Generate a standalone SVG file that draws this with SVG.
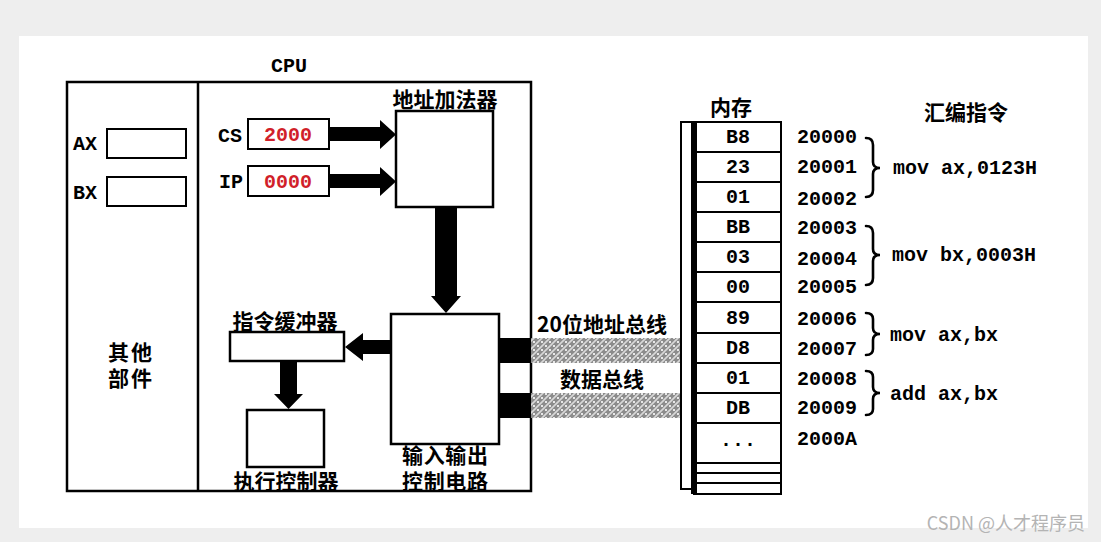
<svg xmlns="http://www.w3.org/2000/svg" width="1101" height="542" viewBox="0 0 1101 542">
<defs>
<pattern id="hatch" width="8" height="8" patternUnits="userSpaceOnUse">
<rect width="8" height="8" fill="#8c8c8c"/>
<path d="M0,8 L8,0 M-2,2 L2,-2 M6,10 L10,6" stroke="#d8d8d8" stroke-width="1.6"/>
<circle cx="2" cy="2" r="1.1" fill="#ffffff"/>
<circle cx="6" cy="6" r="1.1" fill="#ffffff"/>
</pattern>
<style>
.box{fill:#fff;stroke:#000;stroke-width:2.5}
.thin{fill:#fff;stroke:#000;stroke-width:2}
.zh{font-family:"Noto Sans CJK SC","Noto Sans CJK JP",sans-serif;font-weight:bold;font-size:21px;fill:#000}
.mono{font-family:"Liberation Mono","DejaVu Sans Mono",monospace;font-weight:bold;font-size:20px;fill:#000}
.red{fill:#d11f2a}
.arr{fill:#000}
.brace{fill:none;stroke:#000;stroke-width:2.6;stroke-linecap:round}
</style>
</defs>
<rect width="1101" height="542" fill="#eeeeee"/>
<rect x="19" y="36" width="1069" height="492" fill="#ffffff"/>

<g id="cpu">
<rect class="box" x="67" y="82" width="464" height="409" fill="none"/>
<line x1="198" y1="82" x2="198" y2="491" stroke="#000" stroke-width="2.5"/>
<text class="mono" x="289" y="66" text-anchor="middle" dominant-baseline="central">CPU</text>
</g>

<g id="other-parts">
<text class="zh" x="108" y="351" dominant-baseline="central" font-size="16" textLength="44" lengthAdjust="spacing">其他</text>
<text class="zh" x="108" y="377" dominant-baseline="central" font-size="16" textLength="44" lengthAdjust="spacing">部件</text>
</g>

<g id="ax">
<text class="mono" x="73" y="144" dominant-baseline="central" font-size="19">AX</text>
<rect class="thin" x="107" y="129" width="79" height="29"/>
</g>
<g id="bx">
<text class="mono" x="73" y="193" dominant-baseline="central" font-size="19">BX</text>
<rect class="thin" x="107" y="177" width="79" height="29"/>
</g>

<g id="cs">
<text class="mono" x="218" y="136" dominant-baseline="central">CS</text>
<rect class="thin" x="248" y="119" width="81" height="30"/>
<text class="mono red" x="288" y="135" text-anchor="middle" dominant-baseline="central">2000</text>
</g>
<g id="ip">
<text class="mono" x="219" y="182" dominant-baseline="central">IP</text>
<rect class="thin" x="248" y="166" width="81" height="30"/>
<text class="mono red" x="288" y="182" text-anchor="middle" dominant-baseline="central">0000</text>
</g>

<g id="address-adder">
<text class="zh" x="445" y="98" text-anchor="middle" dominant-baseline="central">地址加法器</text>
<rect class="box" x="396" y="111" width="97" height="96"/>
</g>

<g id="io-control">
<rect class="box" x="391" y="314" width="108" height="130"/>
<text class="zh" x="402" y="454" dominant-baseline="central" font-size="16" textLength="86" lengthAdjust="spacing">输入输出</text>
<text class="zh" x="402" y="480" dominant-baseline="central" font-size="16" textLength="86" lengthAdjust="spacing">控制电路</text>
</g>

<g id="instr-buffer">
<text class="zh" x="285" y="320" text-anchor="middle" dominant-baseline="central">指令缓冲器</text>
<rect class="box" x="230" y="332" width="114" height="29"/>
</g>

<g id="exec-control">
<rect class="box" x="247" y="410" width="77" height="57"/>
<text class="zh" x="286" y="480" text-anchor="middle" dominant-baseline="central">执行控制器</text>
</g>

<g id="connectors">
<path class="arr" d="M330,127 L380,127 L380,120 L396,134.5 L380,149 L380,141 L330,141 Z"/>
<path class="arr" d="M330,174 L380,174 L380,167 L396,181.5 L380,196 L380,188 L330,188 Z"/>
<path class="arr" d="M435,208 L457,208 L457,296 L461,296 L446,313 L431,296 L435,296 Z"/>
<path class="arr" d="M391,340 L363,340 L363,333 L345,347 L363,361 L363,354 L391,354 Z"/>
<path class="arr" d="M280,362 L297,362 L297,394 L303,394 L288.5,409 L274,394 L280,394 Z"/>
<rect class="arr" x="499" y="338" width="32" height="25"/>
<rect class="arr" x="499" y="393" width="32" height="25"/>
<rect x="531" y="338" width="151" height="25" fill="url(#hatch)"/>
<rect x="531" y="393" width="151" height="25" fill="url(#hatch)"/>
<path class="brace" d="M866,138 Q873,138 873,145 L873,162 Q873,168 880,168 Q873,168 873,174 L873,190 Q873,197 866,197"/>
<path class="brace" d="M866,226 Q873,226 873,233 L873,249 Q873,255 880,255 Q873,255 873,261 L873,278 Q873,285 866,285"/>
<path class="brace" d="M866,313 Q873,313 873,319 L873,328 Q873,334 880,334 Q873,334 873,340 L873,349 Q873,355 866,355"/>
<path class="brace" d="M866,371 Q873,371 873,377 L873,387 Q873,393 880,393 Q873,393 873,399 L873,409 Q873,415 866,415"/>
</g>

<g id="bus-labels">
<text class="zh" x="602" y="323" text-anchor="middle" dominant-baseline="central">20位地址总线</text>
<text class="zh" x="602" y="378" text-anchor="middle" dominant-baseline="central">数据总线</text>
</g>

<g id="memory">
<text class="zh" x="731" y="106" text-anchor="middle" dominant-baseline="central">内存</text>
<rect class="thin" x="681" y="122" width="100" height="367"/>
<rect class="thin" x="694" y="122" width="87" height="372"/>
<rect x="691" y="122" width="6" height="372" fill="#000"/>
<g stroke="#000" stroke-width="2">
<line x1="696" y1="152" x2="781" y2="152"/>
<line x1="696" y1="182" x2="781" y2="182"/>
<line x1="696" y1="212" x2="781" y2="212"/>
<line x1="696" y1="242" x2="781" y2="242"/>
<line x1="696" y1="272" x2="781" y2="272"/>
<line x1="696" y1="302" x2="781" y2="302"/>
<line x1="696" y1="333" x2="781" y2="333"/>
<line x1="696" y1="363" x2="781" y2="363"/>
<line x1="696" y1="393" x2="781" y2="393"/>
<line x1="696" y1="423" x2="781" y2="423"/>
<line x1="696" y1="463" x2="781" y2="463"/>
<line x1="696" y1="473" x2="781" y2="473"/>
<line x1="696" y1="483" x2="781" y2="483"/>
</g>
<g class="mono" text-anchor="middle" dominant-baseline="central">
<text x="738" y="137">B8</text>
<text x="738" y="167">23</text>
<text x="738" y="197">01</text>
<text x="738" y="227">BB</text>
<text x="738" y="257">03</text>
<text x="738" y="287">00</text>
<text x="738" y="318">89</text>
<text x="738" y="348">D8</text>
<text x="738" y="378">01</text>
<text x="738" y="408">DB</text>
<text x="738" y="440">...</text>
</g>
<g class="mono" dominant-baseline="central">
<text x="797" y="137">20000</text>
<text x="797" y="167">20001</text>
<text x="797" y="199">20002</text>
<text x="797" y="228">20003</text>
<text x="797" y="259">20004</text>
<text x="797" y="287">20005</text>
<text x="797" y="319">20006</text>
<text x="797" y="349">20007</text>
<text x="797" y="379">20008</text>
<text x="797" y="408">20009</text>
<text x="797" y="439">2000A</text>
</g>
</g>

<g id="asm">
<text class="zh" x="966" y="111" text-anchor="middle" dominant-baseline="central">汇编指令</text>
<g class="mono" dominant-baseline="central">
<text x="893" y="168">mov ax,0123H</text>
<text x="892" y="255">mov bx,0003H</text>
<text x="890" y="335">mov ax,bx</text>
<text x="890" y="394">add ax,bx</text>
</g>
</g>

<text x="1085" y="522" text-anchor="end" dominant-baseline="central" font-family="'Noto Sans CJK SC','Noto Sans',sans-serif" font-size="18" fill="#b4b4b4">CSDN @人才程序员</text>
</svg>
